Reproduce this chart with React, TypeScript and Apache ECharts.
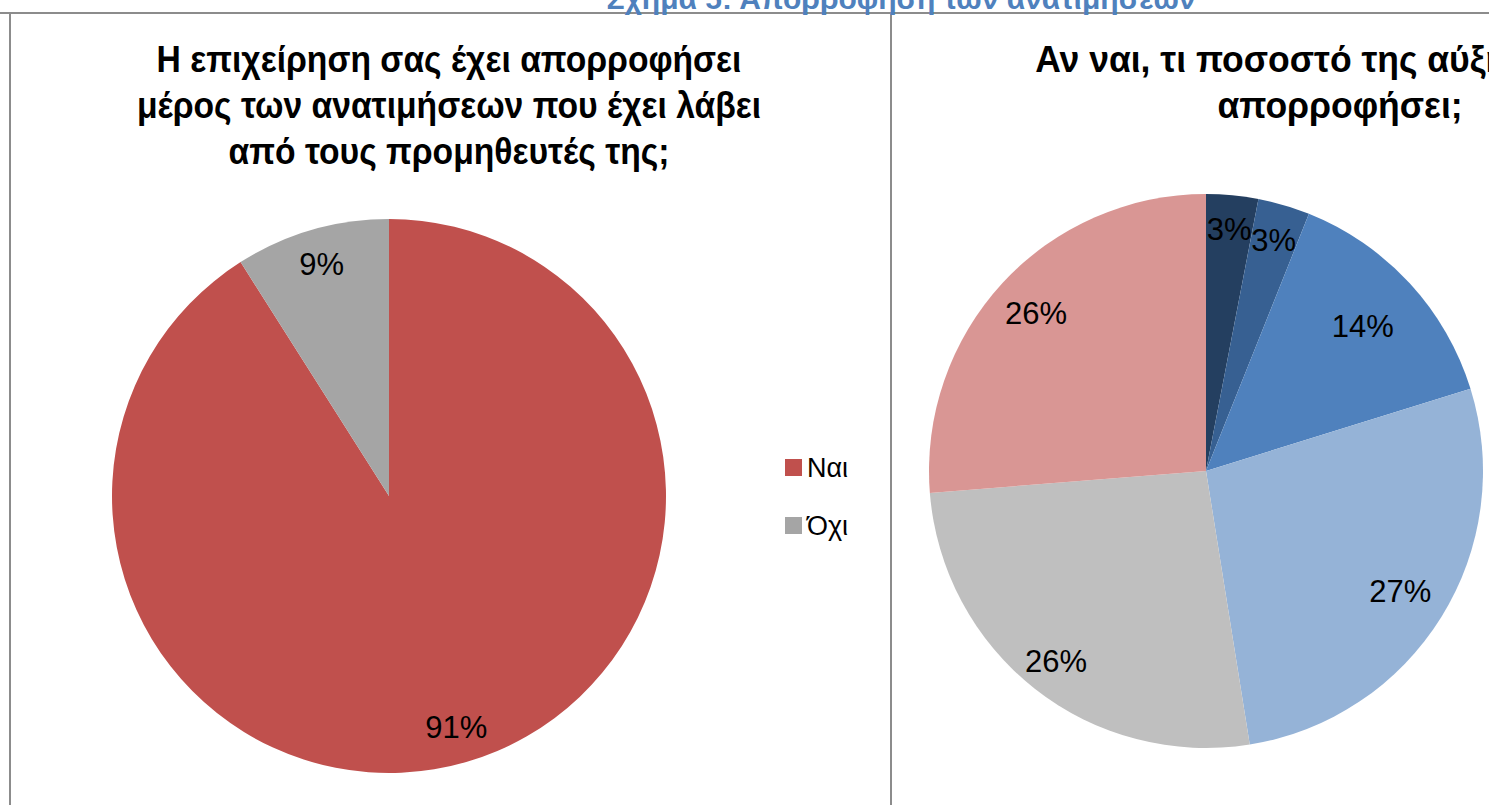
import React, { useEffect, useRef } from "react";
import * as echarts from "echarts";

const figureTitle = "Σχήμα 5: Απορρόφηση των ανατιμήσεων";
const leftTitle = "Η επιχείρηση σας έχει απορροφήσει\nμέρος των ανατιμήσεων που έχει λάβει\nαπό τους προμηθευτές της;";
const rightTitle = "Αν ναι, τι ποσοστό της αύξησης έχει\nαπορροφήσει;";

const leftCategories = ["Ναι", "Όχι"];
const leftValues = [91, 9];
const leftColors = ["#C0504D", "#A5A5A5"];

const rightCategories = ["0%", "1-10%", "11-25%", "26-50%", "51-75%", "76-100%"];
const rightValues = [3, 3, 14, 27, 26, 26];
const rightColors = ["#243F60", "#376092", "#4F81BD", "#95B3D7", "#BFBFBF", "#D99694"];

// label distance from centre, as a fraction of the radius (style, not data)
const leftLabelRing = [0.86, 0.86];
const rightLabelRing = [0.865, 0.855, 0.76, 0.815, 0.865, 0.825];

const FONT = "'Liberation Sans', Arial, sans-serif";

export default function App() {
  const ref = useRef<HTMLDivElement>(null);

  useEffect(() => {
    document.body.style.margin = "0";
    if (!ref.current) return;
    const chart = echarts.init(ref.current, undefined, { renderer: "svg" });

    const mk = (cats: string[], vals: number[], cols: string[]) =>
      cats.map((n, i) => ({ name: n, value: vals[i], itemStyle: { color: cols[i] } }));
    const leftData = mk(leftCategories, leftValues, leftColors);
    const rightData = mk(rightCategories, rightValues, rightColors);

    const labelStyle = {
      show: true,
      position: "inside",
      formatter: "{c}%",
      color: "#000",
      fontSize: 31,
      fontFamily: FONT,
    };

    const basePie = {
      type: "pie",
      clockwise: true,
      startAngle: 90,
      avoidLabelOverlap: false,
      silent: true,
      label: { show: false },
      labelLine: { show: false },
      labelLayout: { hideOverlap: false },
      itemStyle: { borderWidth: 0 },
      emphasis: { disabled: true },
    };

    const R = 277;
    const labelSeries = (prefix: string, center: number[], data: any[], rings: number[]) =>
      data.map((_, k) => {
        const f = rings[k];
        const r0 = Math.max(0, (2 * f - 1) * R);
        return {
          ...basePie,
          name: prefix + k,
          center,
          radius: [r0, R],
          data: data.map((d, i) => ({
            ...d,
            itemStyle: { color: "rgba(0,0,0,0)" },
            label: { show: i === k },
          })),
          label: labelStyle,
        };
      });

    const titleText = (text: string, x: number, y: number, scaleX: number) => ({
      type: "text",
      x,
      y,
      scaleX,
      style: {
        text,
        x: 0,
        y: 0,
        textAlign: "center",
        textVerticalAlign: "top",
        fill: "#000",
        font: "bold 37px " + FONT,
        lineHeight: 46,
      },
    });

    chart.setOption({
      animation: false,
      backgroundColor: "#ffffff",
      title: [
        {
          text: figureTitle,
          left: 896,
          top: -22,
          textAlign: "center",
          textStyle: { color: "#4F81BD", fontSize: 30, fontWeight: "bold", fontFamily: FONT },
        },
      ],
      legend: {
        data: leftCategories,
        orient: "vertical",
        left: 785,
        top: 454,
        itemWidth: 17,
        itemHeight: 17,
        itemGap: 31,
        icon: "rect",
        selectedMode: false,
        padding: 0,
        textStyle: { color: "#000", fontSize: 27, fontFamily: FONT },
      },
      graphic: [
        { type: "line", shape: { x1: 0, y1: 13, x2: 1489, y2: 13 }, style: { stroke: "#8C8C8C", lineWidth: 2 } },
        { type: "line", shape: { x1: 10, y1: 13, x2: 10, y2: 805 }, style: { stroke: "#8C8C8C", lineWidth: 2 } },
        { type: "line", shape: { x1: 891, y1: 13, x2: 891, y2: 805 }, style: { stroke: "#8C8C8C", lineWidth: 2 } },
        titleText(leftTitle, 449, 36, 0.91),
        titleText(rightTitle, 1340, 36, 0.96),
      ],
      series: [
        { ...basePie, name: "left", center: [389, 496], radius: R, data: leftData },
        { ...basePie, name: "right", center: [1206, 471], radius: R, data: rightData },
        ...labelSeries("leftLabels", [389, 496], leftData, leftLabelRing),
        ...labelSeries("rightLabels", [1206, 471], rightData, rightLabelRing),
      ],
    });

    return () => chart.dispose();
  }, []);

  return <div ref={ref} style={{ width: 1489, height: 805, overflow: "hidden" }} />;
}
